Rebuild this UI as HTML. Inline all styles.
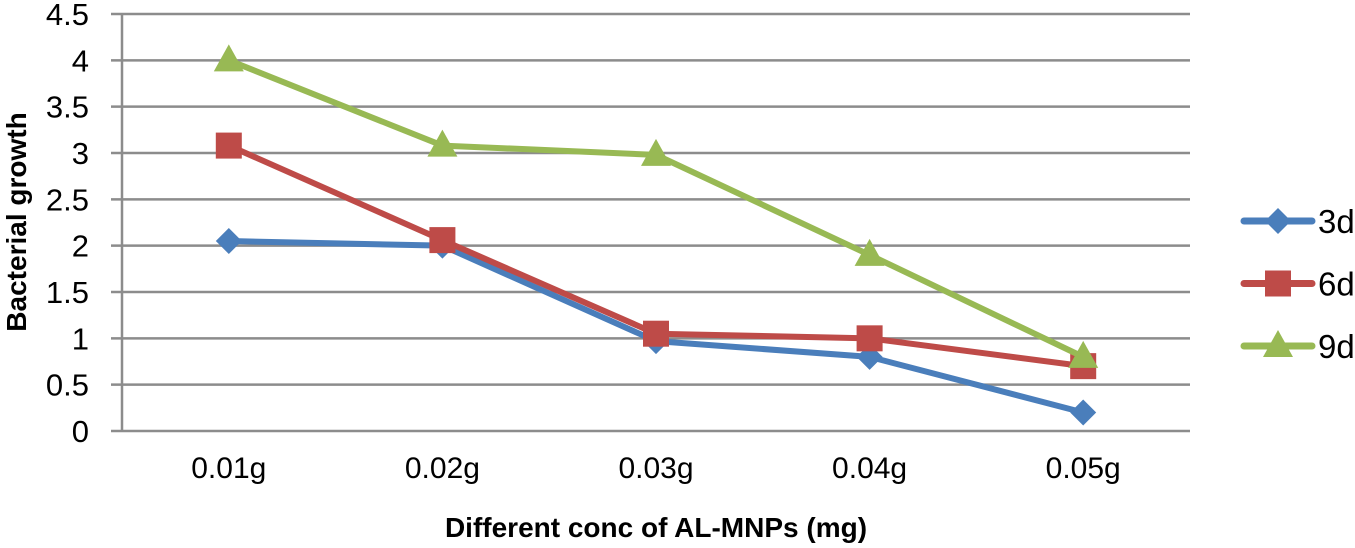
<!DOCTYPE html>
<html><head><meta charset="utf-8">
<style>
body{margin:0;background:#fff;}
svg{display:block;font-family:"Liberation Sans",sans-serif;}
</style></head>
<body>
<svg id="chart" width="1355" height="548"></svg>
<script>
const categories = ["0.01g","0.02g","0.03g","0.04g","0.05g"];
const s3d = [2.05, 2.0, 0.97, 0.8, 0.2];
const s6d = [3.08, 2.06, 1.05, 1.0, 0.7];
const s9d = [4.0, 3.08, 2.98, 1.9, 0.8];
const yTicks = [0,0.5,1,1.5,2,2.5,3,3.5,4,4.5];
const seriesNames = ["3d","6d","9d"];
const seriesColors = ["#4a7ebb","#be4b48","#98b954"];

const NS="http://www.w3.org/2000/svg";
const svg=document.getElementById('chart');
const L=122,R=1190,Y0=431,Y1=14;
const x=i=>L+(R-L)*(i+0.5)/categories.length;
const y=v=>Y0-(Y0-Y1)*v/4.5;
function mk(t,a,p){const e=document.createElementNS(NS,t);for(const k in a)e.setAttribute(k,a[k]);(p||svg).appendChild(e);return e;}

yTicks.forEach(v=>{
  const g=mk('line',{x1:111,x2:R,y1:y(v),y2:y(v),stroke:'#8c8c8c','stroke-width':2.5});
  
  
  const t=mk('text',{x:89,y:y(v)+11,'text-anchor':'end','font-size':31,fill:'#000'});
  t.textContent=v;
  
  
});
const ax=mk('line',{x1:L,x2:L,y1:Y1,y2:Y0,stroke:'#8c8c8c','stroke-width':2.5});


categories.forEach((c,i)=>{
  const t=mk('text',{x:x(i),y:478,'text-anchor':'middle','font-size':30});
  t.textContent=c;
  
  
});
const xt=mk('text',{x:656,y:537,'text-anchor':'middle','font-size':28,'font-weight':'bold'});
xt.textContent='Different conc of AL-MNPs (mg)';


const yt=mk('text',{x:0,y:0,'text-anchor':'middle','font-size':28,'font-weight':'bold',transform:'translate(26,222) rotate(-90)'});
yt.textContent='Bacterial growth';



function marker(kind,cx,cy,col,p){
  let m;
  if(kind===0) m=mk('polygon',{points:`${cx},${cy-13} ${cx+13},${cy} ${cx},${cy+13} ${cx-13},${cy}`,fill:col},p);
  else if(kind===1) m=mk('rect',{x:cx-13,y:cy-13,width:26,height:26,fill:col},p);
  else m=mk('polygon',{points:`${cx},${cy-16} ${cx+15},${cy+11} ${cx-15},${cy+11}`,fill:col},p);
  
  
}
[s3d,s6d,s9d].forEach((s,k)=>{
  const g=mk('g',{});
  
  
  const pl=mk('polyline',{points:s.map((v,i)=>x(i)+','+y(v)).join(' '),fill:'none',stroke:seriesColors[k],'stroke-width':6,'stroke-linejoin':'round'},g);
  
  
  s.forEach((v,i)=>marker(k,x(i),y(v),seriesColors[k],g));
  const ly=221+62.5*k;
  const lg=mk('g',{});
  
  
  mk('line',{x1:1244,x2:1312,y1:ly,y2:ly,stroke:seriesColors[k],'stroke-width':7,'stroke-linecap':'round'},lg);
  marker(k,1278,ly,seriesColors[k],lg);
  const t=mk('text',{x:1318,y:ly+12,'font-size':33},lg);
  t.textContent=seriesNames[k];
});
</script>
</body></html>
